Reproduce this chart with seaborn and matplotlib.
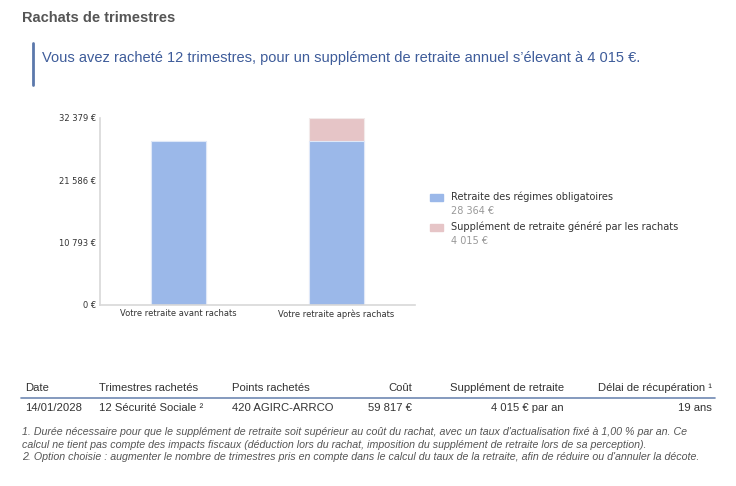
import numpy as np
import pandas as pd
import seaborn as sns
import matplotlib.pyplot as plt

categories = ['Votre retraite avant rachats', 'Votre retraite après rachats']
base_values = [28364, 28364]
supplement_values = [0, 4015]
y_ticks = [0, 10793, 21586, 32379]
y_tick_labels = ['0 €', '10 793 €', '21 586 €', '32 379 €']
legend_names = ['Retraite des régimes obligatoires', 'Supplément de retraite généré par les rachats']
legend_values = ['28 364 €', '4 015 €']

table_header = ['Date', 'Trimestres rachetés', 'Points rachetés', 'Coût',
                'Supplément de retraite', 'Délai de récupération ¹']
table_row = ['14/01/2028', '12 Sécurité Sociale ²', '420 AGIRC-ARRCO', '59 817 €',
             '4 015 € par an', '19 ans']
footnotes = [
    "1. Durée nécessaire pour que le supplément de retraite soit supérieur au coût du rachat, avec un taux d'actualisation fixé à 1,00 % par an. Ce",
    "calcul ne tient pas compte des impacts fiscaux (déduction lors du rachat, imposition du supplément de retraite lors de sa perception).",
    "2. Option choisie : augmenter le nombre de trimestres pris en compte dans le calcul du taux de la retraite, afin de réduire ou d'annuler la décote.",
]

BLUE = '#9bb8e9'
PINK = '#e6c5c7'

sns.set_style('white')
plt.rcParams['font.family'] = ['DejaVu Sans']

W, H = 736, 486
fig = plt.figure(figsize=(W / 100, H / 100), dpi=100)

def px(x, y):
    return x / W, 1 - y / H

# chart
ax = fig.add_axes([100 / W, 1 - 305 / H, 315 / W, 187 / H])
df = pd.DataFrame({'cat': categories,
                   'base': base_values,
                   'total': np.array(base_values) + np.array(supplement_values)})
sns.barplot(data=df, x='cat', y='total', color=PINK, saturation=1, width=0.35,
            edgecolor='#f2eaea', linewidth=0.8, ax=ax)
sns.barplot(data=df, x='cat', y='base', color=BLUE, saturation=1, width=0.35,
            edgecolor='#dfe8f8', linewidth=0.8, ax=ax)
ax.set_xlim(-0.5, 1.5)
ax.set_ylim(0, 32379)
ax.set_yticks(y_ticks)
ax.set_yticklabels(y_tick_labels, fontsize=6, color='#333333')
ax.tick_params(axis='x', labelsize=6, colors='#333333', length=0, pad=3)
ax.tick_params(axis='y', length=0, pad=3)
ax.set_xlabel('')
ax.set_ylabel('')
for s in ['top', 'right']:
    ax.spines[s].set_visible(False)
for s in ['left', 'bottom']:
    ax.spines[s].set_color('#d8d8d8')
    ax.spines[s].set_linewidth(1.2)

# legend
leg_y = [197, 227]
for i, (name, val, col) in enumerate(zip(legend_names, legend_values, [BLUE, PINK])):
    fig.patches.append(plt.Rectangle(px(430, leg_y[i] + 4), 13 / W, 7 / H,
                                     transform=fig.transFigure, color=col))
    fig.text(*px(451, leg_y[i]), name, fontsize=7, color='#333333', va='center')
    fig.text(*px(451, leg_y[i] + 14), val, fontsize=7, color='#999999', va='center')

# titles
fig.text(*px(22, 18), 'Rachats de trimestres', fontsize=10.5, fontweight='bold',
         color='#555555', va='center', family='Liberation Sans')
fig.add_artist(plt.Line2D([33 / W, 33 / W], [1 - 43 / H, 1 - 85 / H],
                          color='#5b78ab', linewidth=2))
fig.text(*px(42, 58), 'Vous avez racheté 12 trimestres, pour un supplément de retraite annuel s\u2019élevant à 4 015 €.',
         fontsize=10.5, color='#3e5c9a', va='center', family='Liberation Sans')

# table
col_x = [25, 99, 232, 412, 564, 712]
col_ha = ['left', 'left', 'left', 'right', 'right', 'right']
for x, ha, h, r in zip(col_x, col_ha, table_header, table_row):
    fig.text(*px(x, 388), h, fontsize=8.1, color='#333333', ha=ha, va='center',
             family='Liberation Sans')
    fig.text(*px(x, 408), r, fontsize=8.1, color='#333333', ha=ha, va='center',
             family='Liberation Sans')
fig.add_artist(plt.Line2D([21 / W, 715 / W], [1 - 398 / H, 1 - 398 / H],
                          color='#7089b3', linewidth=1.2))

for i, line in enumerate(footnotes):
    fig.text(*px(22, 432 + i * 12.5), line, fontsize=7.7, color='#555555',
             style='italic', va='center', family='Liberation Sans')

fig.savefig('out.png', dpi=100)
